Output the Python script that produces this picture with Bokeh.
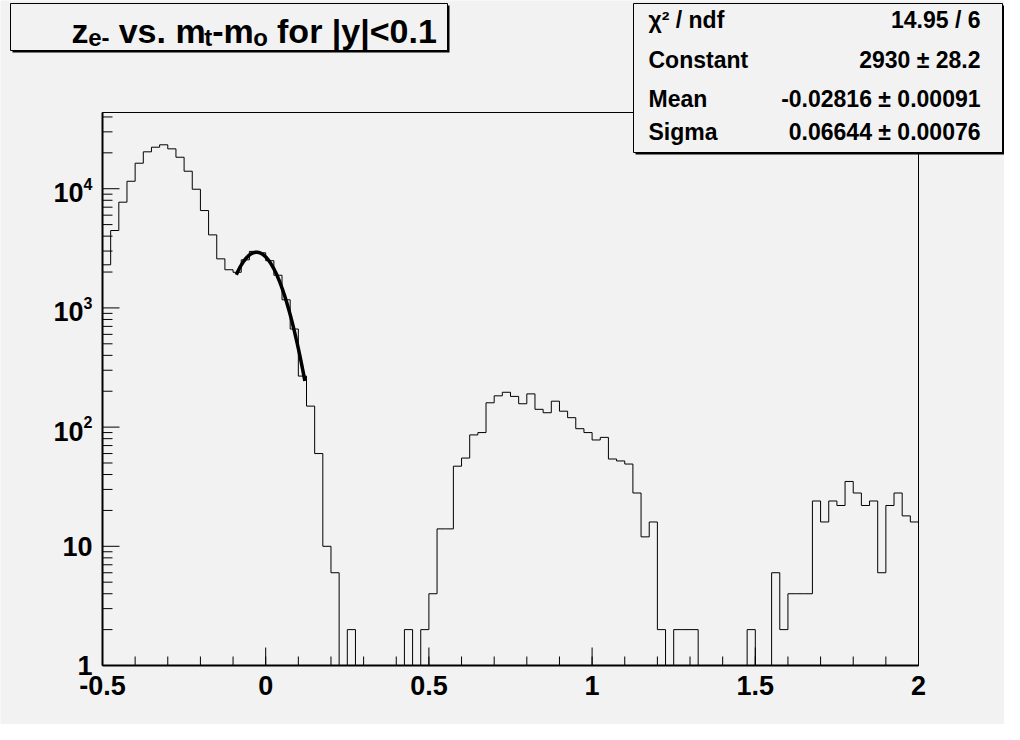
import numpy as np
from bokeh.plotting import figure
from bokeh.models import Range1d, Label, BoxAnnotation
from bokeh.core.properties import value
from bokeh.embed import file_html
from bokeh.resources import INLINE

# ---------------- data ----------------
bin_low = -0.5
bin_high = 2.0
counts = [
    2300, 4460, 7710, 11550, 16370, 20400, 22300, 23360, 21600, 18370,
    14020, 9900, 6560, 4100, 2580, 2090, 1990, 2530, 2980, 2900,
    2490, 1880, 1170, 665, 268, 150, 60, 10, 6, 0,
    2, 0, 0, 0, 0, 0, 0, 2, 0, 2,
    4, 14, 14, 47, 55, 86, 90, 160, 183, 196,
    181, 157, 190, 141, 132, 165, 136, 120, 97, 90,
    78, 82, 54, 52, 49, 28, 12, 16, 2, 0,
    2, 2, 2, 0, 0, 0, 0, 0, 0, 2,
    0, 0, 6, 2, 4, 4, 4, 24, 16, 24,
    22, 35, 28, 22, 24, 6, 22, 28, 18, 16,
]
fit_constant = 2930.0
fit_mean = -0.02816
fit_sigma = 0.06644
fit_low = -0.09
fit_high = 0.12

x_tick_values = [-0.5, 0.0, 0.5, 1.0, 1.5, 2.0]
x_tick_labels = ["-0.5", "0", "0.5", "1", "1.5", "2"]
x_minor_step = 0.1
y_decades = [0, 1, 2, 3, 4]
y_tick_base = ["1", "10", "10", "10", "10"]
y_tick_exp = ["", "", "2", "3", "4"]
y_min = 1.0
y_max = 43600.0

stats_names = ["\u03c7\u00b2 / ndf", "Constant", "Mean", "Sigma"]
stats_values = ["14.95 / 6", "2930 \u00b1 28.2", "-0.02816 \u00b1 0.00091", "0.06644 \u00b1 0.00076"]
title_parts = [("z", "main"), ("e-", "sub"), (" vs. m", "main"), ("t", "sub"),
               ("-m", "main"), ("o", "sub"), (" for |y|<0.1", "main")]

# ---------------- layout ----------------
BG = "#f2f2f2"
FONT = "Liberation Sans"
W, H = 1004, 724
FL, FT, FW, FH = 102, 112, 816, 553      # inner plot area (page px)
FB = FT + FH
FR = FL + FW

px_per_x = FW / (bin_high - bin_low)
dec_px = FH / np.log10(y_max / y_min)
x_start = bin_low - FL / px_per_x
x_end = bin_high + (W - FR) / px_per_x
y_start = y_min * 10 ** (-(H - FB) / dec_px)
y_end = y_max * 10 ** (FT / dec_px)


def sx(fx):
    return fx


def sy(fy):
    return H - fy


p = figure(width=W, height=H, x_range=Range1d(x_start, x_end), y_range=Range1d(y_start, y_end),
           y_axis_type="log", output_backend="svg", toolbar_location=None,
           x_axis_location=None, y_axis_location=None, min_border=0)
p.background_fill_color = BG
p.border_fill_color = BG
p.outline_line_color = None
p.xgrid.grid_line_color = None
p.ygrid.grid_line_color = None

# ---------------- frame and axes ----------------
p.quad(left=[bin_low], right=[bin_high], bottom=[y_min], top=[y_max],
       fill_color=None, line_color="black", line_width=1)
p.segment(x0=[bin_low], y0=[y_min], x1=[bin_high], y1=[y_min], line_color="black", line_width=2)
p.segment(x0=[bin_low], y0=[y_min], x1=[bin_low], y1=[y_max], line_color="black", line_width=2)

x_minor = list(np.round(np.arange(bin_low, bin_high + 1e-9, x_minor_step), 4))
p.ray(x=x_tick_values, y=[y_min] * len(x_tick_values), length=18, length_units="screen",
      angle=np.pi / 2, line_color="black", line_width=1)
p.ray(x=x_minor, y=[y_min] * len(x_minor), length=9, length_units="screen",
      angle=np.pi / 2, line_color="black", line_width=1)

y_major = [10.0 ** k for k in y_decades]
y_minor = [m * 10.0 ** k for k in y_decades for m in range(2, 10) if m * 10.0 ** k <= y_max]
p.ray(x=[bin_low] * len(y_major), y=y_major, length=17, length_units="screen",
      angle=0, line_color="black", line_width=1)
p.ray(x=[bin_low] * len(y_minor), y=y_minor, length=10, length_units="screen",
      angle=0, line_color="black", line_width=1)

# x tick labels
p.text(x=x_tick_values, y=[y_min] * len(x_tick_values), text=x_tick_labels,
       text_align="center", text_baseline="top", y_offset=10,
       text_font=value(FONT), text_font_style="bold", text_font_size=value("27px"),
       text_color="black")

# y tick labels
plain = [i for i, e in enumerate(y_tick_exp) if e == ""]
expd = [i for i, e in enumerate(y_tick_exp) if e != ""]
p.text(x=[bin_low] * len(plain), y=[y_major[i] for i in plain], text=[y_tick_base[i] for i in plain],
       text_align="right", text_baseline="middle", x_offset=-10,
       text_font=value(FONT), text_font_style="bold", text_font_size=value("27px"),
       text_color="black")
p.text(x=[bin_low] * len(expd), y=[y_major[i] for i in expd], text=[y_tick_base[i] for i in expd],
       text_align="right", text_baseline="middle", x_offset=-19, y_offset=4,
       text_font=value(FONT), text_font_style="bold", text_font_size=value("27px"),
       text_color="black")
p.text(x=[bin_low] * len(expd), y=[y_major[i] for i in expd], text=[y_tick_exp[i] for i in expd],
       text_align="left", text_baseline="middle", x_offset=-19, y_offset=-5,
       text_font=value(FONT), text_font_style="bold", text_font_size=value("16px"),
       text_color="black")

# ---------------- histogram ----------------
cnt = np.array(counts, dtype=float)
n_bins = len(cnt)
edges = bin_low + (bin_high - bin_low) * np.arange(n_bins + 1) / n_bins
vals = np.where(cnt > 0, cnt, y_min)
hx = np.repeat(edges, 2)
hy = np.concatenate([[y_min], np.repeat(vals, 2), [y_min]])
p.line(hx, hy, line_color="black", line_width=1)

# ---------------- gaussian fit ----------------
fx = np.linspace(fit_low, fit_high, 120)
fy = fit_constant * np.exp(-0.5 * ((fx - fit_mean) / fit_sigma) ** 2)
p.line(fx, fy, line_color="black", line_width=3.5)


# ---------------- boxes ----------------
def box(l, t, r, b, fill, line):
    return BoxAnnotation(left=sx(l), right=sx(r), top=sy(t), bottom=sy(b),
                         left_units="screen", right_units="screen",
                         top_units="screen", bottom_units="screen",
                         fill_color=fill, fill_alpha=1.0, line_color="black", line_width=1,
                         line_alpha=1.0 if line else 0.0)


# title box
p.add_layout(box(12, 5, 449, 52, "black", False))
p.add_layout(box(10, 3, 447, 50, BG, True))
# stats box
p.add_layout(box(635, 5, 1004, 154, "black", False))
p.add_layout(box(633, 3, 1002, 152, BG, True))

# title text (leading spaces handled by advancing x; SVG collapses them)
adv = {'z': 500, 'e': 556, '-': 333, ' ': 278, 'v': 556, 's': 556, '.': 278, 'm': 889,
       't': 333, 'o': 611, 'f': 333, 'r': 389, '|': 280, 'y': 556, '<': 584, '0': 556, '1': 556}
main_size, sub_size = 34, 24
cx = 71.0
for txt, role in title_parts:
    size = main_size if role == "main" else sub_size
    base_y = 30 if role == "main" else 37
    lead = len(txt) - len(txt.lstrip(" "))
    cx += lead * adv[' '] * size / 1000.0
    body = txt.lstrip(" ")
    p.add_layout(Label(x=sx(cx), y=sy(base_y), x_units="screen", y_units="screen", text=body,
                       text_align="left", text_baseline="alphabetic", text_font=FONT,
                       text_font_style="bold", text_font_size=f"{size}px", text_color="black"))
    cx += sum(adv.get(c, 556) for c in body) * size / 1000.0 * 0.985

# stats text
row_base = [19.5, 59.5, 98.0, 131.5]
for name, val, by in zip(stats_names, stats_values, row_base):
    p.add_layout(Label(x=sx(648), y=sy(by), x_units="screen", y_units="screen", text=name,
                       text_align="left", text_baseline="alphabetic", text_font=FONT,
                       text_font_style="bold", text_font_size="23px", text_color="black"))
    p.add_layout(Label(x=sx(980), y=sy(by), x_units="screen", y_units="screen", text=val,
                       text_align="right", text_baseline="alphabetic", text_font=FONT,
                       text_font_style="bold", text_font_size="23px", text_color="black"))

open("out.html", "w").write(file_html(p, INLINE))
